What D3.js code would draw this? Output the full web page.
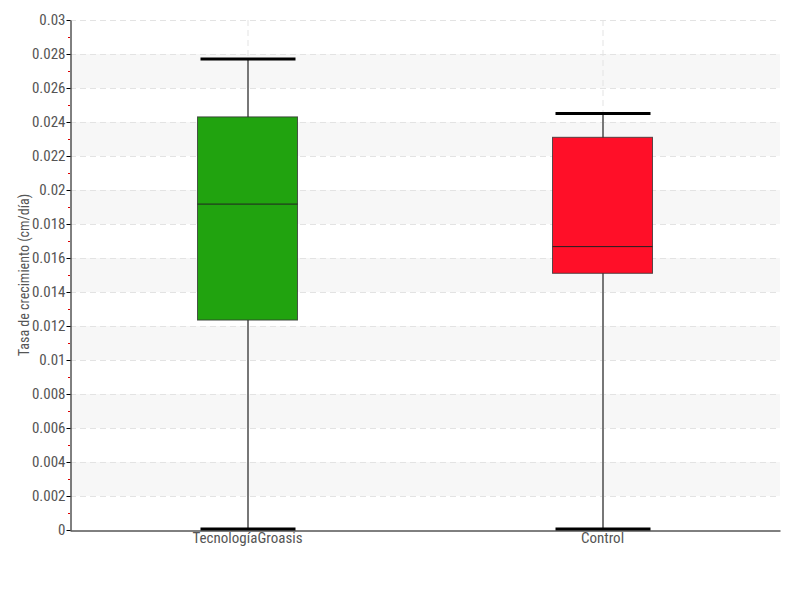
<!DOCTYPE html>
<html><head><meta charset="utf-8">
<script src="https://cdn.jsdelivr.net/npm/d3@7"></script>
<style>body{margin:0;background:#fff}text{font-family:"Liberation Sans Narrow","Roboto Condensed","DejaVu Sans Condensed",sans-serif}</style>
</head><body><svg id="c" width="800" height="600"></svg>
<script>
const categories = ["TecnologíaGroasis", "Control"];
const mins = [0, 0];
const q1s = [0.01235, 0.0151];
const medians = [0.0192, 0.0167];
const q3s = [0.0243, 0.0231];
const maxs = [0.0277, 0.0245];
const colors = ["#21a30f", "#ff0f28"];
const yTicks = [0,0.002,0.004,0.006,0.008,0.01,0.012,0.014,0.016,0.018,0.02,0.022,0.024,0.026,0.028,0.03];
const yTitle = "Tasa de crecimiento (cm/día)";

const svg = d3.select("#c");
const L = 70, R = 780, T = 20, B = 530;
const y = d3.scaleLinear().domain([0, 0.03]).range([B, T]);
const x = d3.scaleBand().domain(categories).range([L, R]);

// shaded bands
for (let i = 1; i < yTicks.length - 1; i += 2) {
  svg.append("rect").attr("x", L).attr("width", R - L)
    .attr("y", y(yTicks[i + 1])).attr("height", y(yTicks[i]) - y(yTicks[i + 1]))
    .attr("fill", "#f7f7f7");
}
// horizontal dashed grid
svg.append("g").selectAll("line").data(yTicks.slice(1)).join("line")
  .attr("x1", L).attr("x2", R).attr("y1", d => y(d) + 0.5).attr("y2", d => y(d) + 0.5)
  .attr("stroke", "#e3e3e3").attr("stroke-dasharray", "6,4");
// vertical dashed grid
svg.append("g").selectAll("line").data(categories).join("line")
  .attr("x1", d => x(d) + x.bandwidth() / 2 + 0.5).attr("x2", d => x(d) + x.bandwidth() / 2 + 0.5)
  .attr("y1", T).attr("y2", B).attr("stroke", "#e3e3e3").attr("stroke-dasharray", "6,4");

// boxes
const data = categories.map((c, i) => ({c, min: mins[i], q1: q1s[i], med: medians[i], q3: q3s[i], max: maxs[i], col: colors[i]}));
const g = svg.append("g").selectAll("g").data(data).join("g")
  .attr("transform", d => `translate(${x(d.c) + x.bandwidth() / 2},0)`);
const bw = 100, cw = 95;
g.append("line").attr("x1", 0.5).attr("x2", 0.5).attr("y1", d => y(d.max)).attr("y2", d => y(d.min))
  .attr("stroke", "#777").attr("stroke-width", 2);
g.append("rect").attr("x", -bw / 2).attr("width", bw)
  .attr("y", d => y(d.q3)).attr("height", d => y(d.q1) - y(d.q3))
  .attr("fill", d => d.col).attr("stroke", "#333").attr("stroke-opacity", 0.8);
g.append("line").attr("x1", -bw / 2).attr("x2", bw / 2).attr("y1", d => y(d.med) + 0.5).attr("y2", d => y(d.med) + 0.5)
  .attr("stroke", "#222");
g.append("line").attr("x1", -cw / 2 + 0.5).attr("x2", cw / 2 + 0.5).attr("y1", d => y(d.max)).attr("y2", d => y(d.max))
  .attr("stroke", "#000").attr("stroke-width", 3);
g.append("line").attr("x1", -cw / 2 + 0.5).attr("x2", cw / 2 + 0.5).attr("y1", d => y(d.min) - 1).attr("y2", d => y(d.min) - 1)
  .attr("stroke", "#000").attr("stroke-width", 3);

// minor ticks
const minor = d3.range(0.001, 0.03, 0.002);
svg.append("g").selectAll("line").data(minor).join("line")
  .attr("x1", L - 2).attr("x2", L).attr("y1", d => y(d) + 0.5).attr("y2", d => y(d) + 0.5)
  .attr("stroke", "#d00");

// y axis
const ya = svg.append("g").attr("transform", `translate(${L + 0.5},0)`)
  .call(d3.axisLeft(y).tickValues(yTicks).tickFormat(d => d3.format("~g")(+d.toFixed(3))).tickSize(4).tickSizeOuter(0));
ya.select(".domain").attr("stroke", "#000");
ya.selectAll(".tick line").attr("stroke", "#000");
ya.selectAll(".tick text").attr("fill", "#555").attr("font-size", 15).attr("x", -5);

// x axis
const xa = svg.append("g").attr("transform", `translate(0,${B + 0.5})`)
  .call(d3.axisBottom(x).tickSize(0).tickSizeOuter(0));
xa.select(".domain").attr("stroke", "#000");
xa.selectAll(".tick text").attr("fill", "#555").attr("font-size", 15).attr("dy", "0.6em");

svg.append("text").attr("transform", `translate(29,${(T + B) / 2}) rotate(-90)`)
  .attr("text-anchor", "middle").attr("fill", "#555").attr("font-size", 14).text(yTitle);
</script></body></html>
